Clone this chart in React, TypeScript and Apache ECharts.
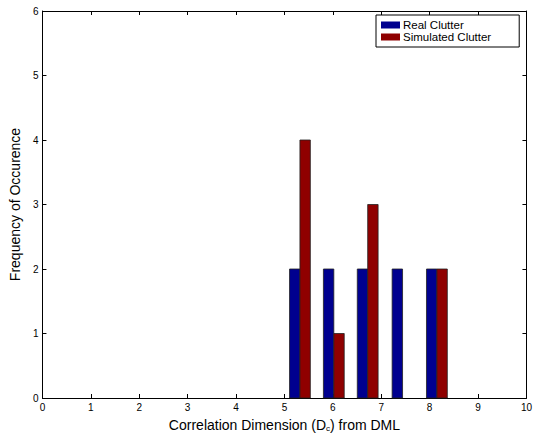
import React, { useEffect, useRef } from "react";
import * as echarts from "echarts";

const binCenters = [5.32, 6.02, 6.72, 7.44, 8.15];
const realCounts = [2, 2, 2, 2, 2];
const simCounts = [4, 1, 3, 0, 2];
const xTicks = [0, 1, 2, 3, 4, 5, 6, 7, 8, 9, 10];
const yTicks = [0, 1, 2, 3, 4, 5, 6];

const FONT = "'Liberation Sans', Arial, Helvetica, sans-serif";
const BAR_W = 0.215;

function makeRender(color: string, offset: number) {
  return (params: any, api: any) => {
    const x = api.value(0) + offset;
    const y = api.value(1);
    if (!y) return null;
    const p1 = api.coord([x - BAR_W / 2, y]);
    const p2 = api.coord([x + BAR_W / 2, 0]);
    return {
      type: "rect",
      shape: { x: p1[0], y: p1[1], width: p2[0] - p1[0], height: p2[1] - p1[1] },
      style: { fill: color, stroke: "#222", lineWidth: 0.8 },
    };
  };
}

export default function App() {
  const ref = useRef<HTMLDivElement>(null);
  useEffect(() => {
    if (!ref.current) return;
    const chart = echarts.init(ref.current, undefined, { renderer: "svg" });
    const axisCommon = {
      type: "value" as const,
      axisLine: { show: true, onZero: false, lineStyle: { color: "#000", width: 1 } },
      axisTick: { show: true, inside: true, length: 4, lineStyle: { color: "#000" } },
      splitLine: { show: false },
    };
    chart.setOption({
      animation: false,
      backgroundColor: "#fff",
      textStyle: { fontFamily: FONT },
      grid: { left: 39, right: 7, top: 11, bottom: 41, containLabel: false },
      legend: {
        orient: "vertical",
        left: 376,
        top: 15,
        padding: [4, 28, 4, 5],
        itemGap: 0,
        itemWidth: 19,
        itemHeight: 7,
        icon: "rect",
        borderColor: "#000",
        borderWidth: 1,
        backgroundColor: "#fff",
        textStyle: { fontFamily: FONT, fontSize: 11.5, color: "#000", lineHeight: 11, padding: [0, 0, 0, -2] },
        data: ["Real Clutter", "Simulated Clutter"],
      },
      xAxis: [
        {
          ...axisCommon,
          position: "bottom",
          min: 0,
          max: 10,
          interval: 1,
          axisLabel: {
            show: true,
            fontFamily: FONT,
            fontSize: 10,
            color: "#000",
            margin: 4,
            formatter: (v: number) => (xTicks.includes(v) ? String(v) : ""),
          },
          name: "Correlation Dimension (D{sub|c}) from DML",
          nameLocation: "middle",
          nameGap: 20,
          nameTextStyle: {
            fontFamily: FONT,
            fontSize: 14,
            color: "#000",
            rich: { sub: { fontFamily: FONT, fontSize: 8, color: "#000", verticalAlign: "bottom", padding: [6, 0, 0, 0] } },
          },
        },
        {
          ...axisCommon,
          position: "top",
          min: 0,
          max: 10,
          interval: 1,
          axisLabel: { show: false },
        },
      ],
      yAxis: [
        {
          ...axisCommon,
          position: "left",
          min: 0,
          max: 6,
          interval: 1,
          axisLabel: {
            show: true,
            fontFamily: FONT,
            fontSize: 10,
            color: "#000",
            margin: 4,
            formatter: (v: number) => (yTicks.includes(v) ? String(v) : ""),
          },
          name: "Frequency of Occurence",
          nameLocation: "middle",
          nameGap: 18,
          nameTextStyle: { fontFamily: FONT, fontSize: 14, color: "#000" },
        },
        {
          ...axisCommon,
          position: "right",
          min: 0,
          max: 6,
          interval: 1,
          axisLabel: { show: false },
        },
      ],
      series: [
        {
          name: "Real Clutter",
          type: "custom",
          xAxisIndex: 0,
          yAxisIndex: 0,
          itemStyle: { color: "#00008F" },
          renderItem: makeRender("#00008F", -BAR_W / 2),
          encode: { x: 0, y: 1 },
          data: binCenters.map((c, i) => [c, realCounts[i]]),
        },
        {
          name: "Simulated Clutter",
          type: "custom",
          xAxisIndex: 0,
          yAxisIndex: 0,
          itemStyle: { color: "#8F0000" },
          renderItem: makeRender("#8F0000", BAR_W / 2),
          encode: { x: 0, y: 1 },
          data: binCenters.map((c, i) => [c, simCounts[i]]),
        },
      ],
    });
    return () => chart.dispose();
  }, []);
  return <div ref={ref} style={{ width: 535, height: 439, position: "absolute", left: 0, top: 0 }} />;
}
